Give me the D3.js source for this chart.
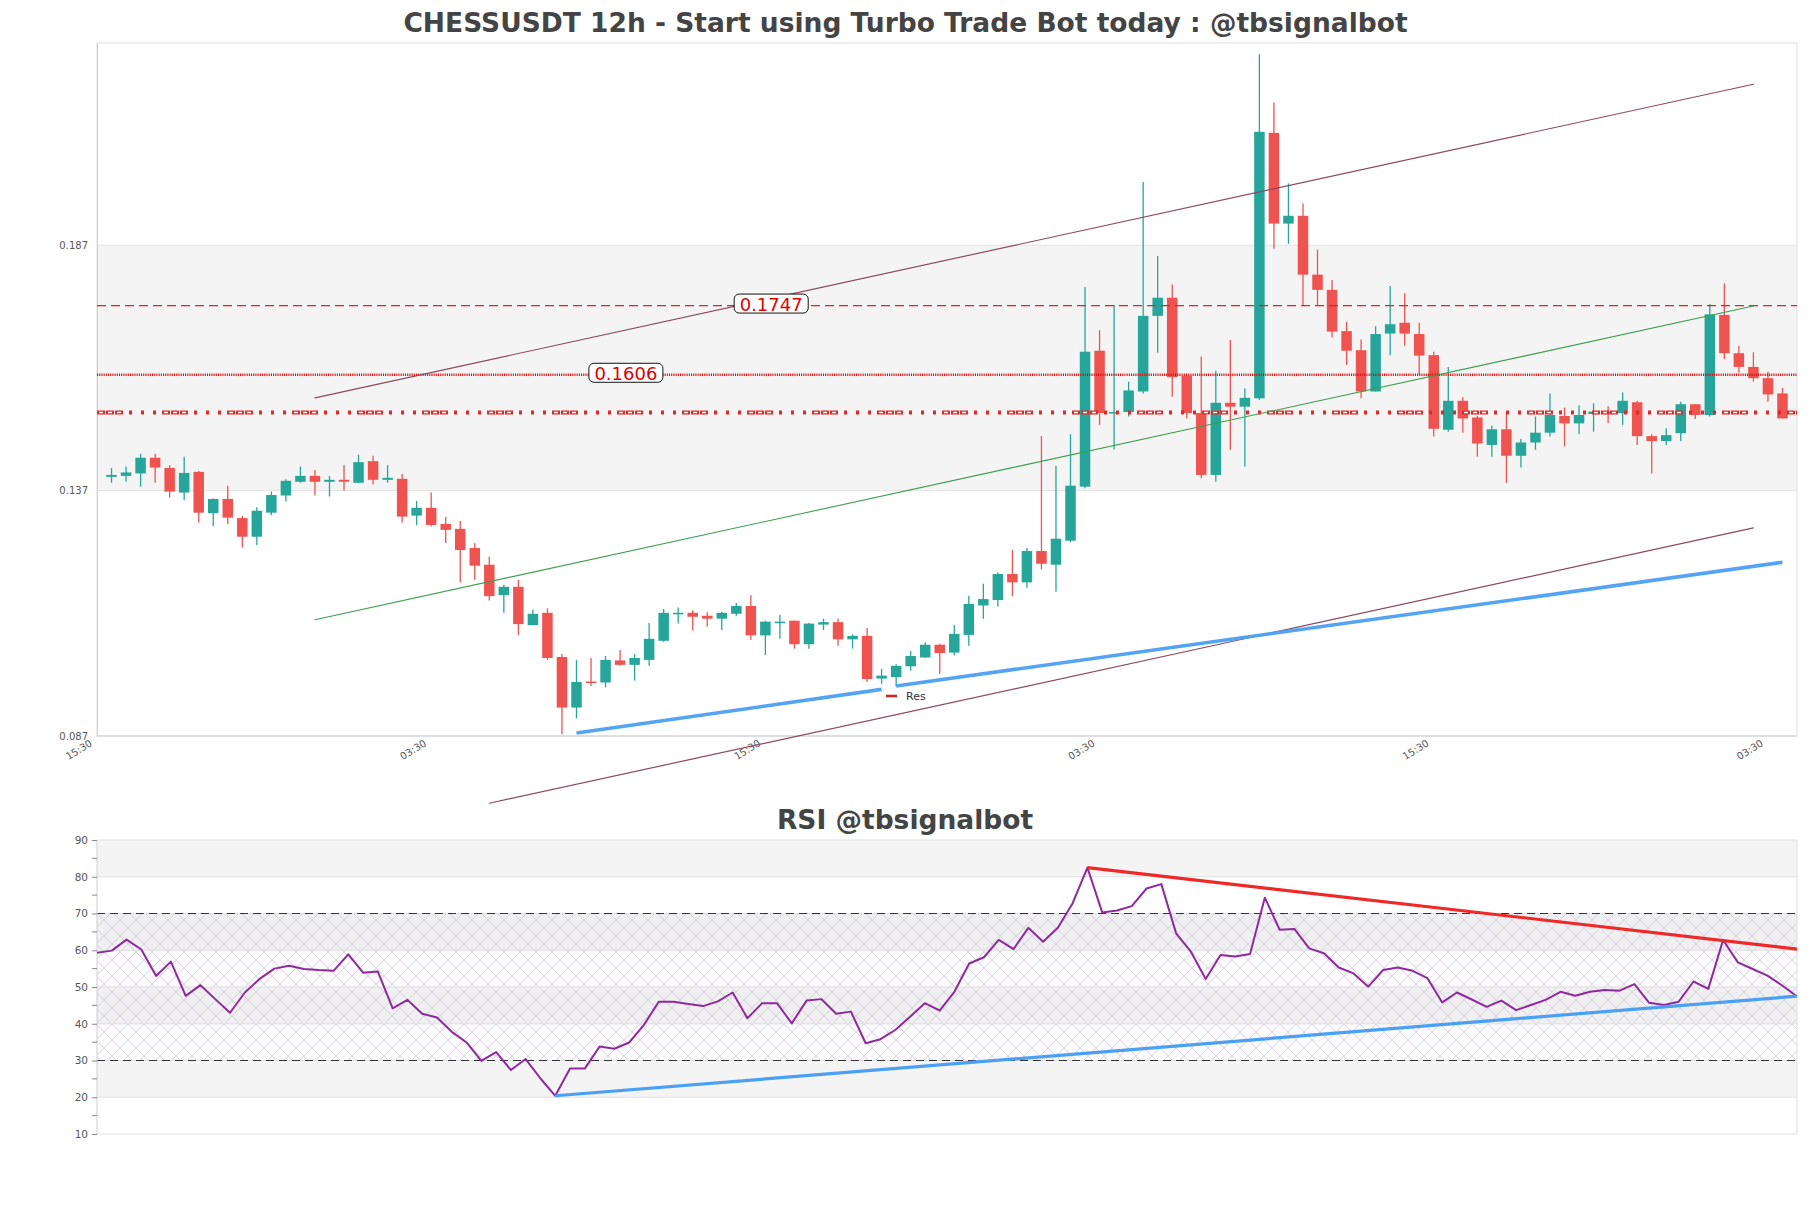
<!DOCTYPE html>
<html><head><meta charset="utf-8">
<script src="https://cdn.jsdelivr.net/npm/d3@7"></script>
<style>
html,body{margin:0;padding:0;background:#fff;}
svg{display:block;font-family:"DejaVu Sans",sans-serif;}
</style></head><body>
<svg id="c" width="1811" height="1208"></svg>
<script>
// ---------------- DATA ----------------
const titleMain = "CHESSUSDT 12h - Start using Turbo Trade Bot today : @tbsignalbot";
const titleRsi = "RSI @tbsignalbot";
const categoryCount = 118;           // category slots on the candle axis
const firstCandleIndex = 1;
const openP  = [0.1398,0.1400,0.1405,0.1437,0.1416,0.1366,0.1408,0.1324,0.1353,0.1314,0.1276,0.1325,0.1360,0.1388,0.1400,0.1388,0.1392,0.1386,0.1430,0.1392,0.1394,0.1319,0.1335,0.1302,0.1292,0.1253,0.1219,0.1157,0.1174,0.1096,0.1121,0.1031,0.0928,0.0981,0.0979,0.1024,0.1015,0.1025,0.1064,0.1118,0.1121,0.1115,0.1109,0.1119,0.1135,0.1075,0.1100,0.1105,0.1057,0.1097,0.1102,0.1067,0.1074,0.0987,0.0990,0.1012,0.1030,0.1056,0.1040,0.1076,0.1136,0.1147,0.1200,0.1183,0.1247,0.1219,0.1268,0.1378,0.1655,0.1527,0.1530,0.1572,0.1726,0.1763,0.1604,0.1528,0.1402,0.1549,0.1541,0.1558,0.2099,0.1914,0.1930,0.1810,0.1779,0.1695,0.1656,0.1572,0.1690,0.1712,0.1689,0.1646,0.1494,0.1553,0.1519,0.1463,0.1495,0.1441,0.1468,0.1488,0.1522,0.1507,0.1526,0.1531,0.1528,0.1550,0.1481,0.1471,0.1487,0.1546,0.1524,0.1728,0.1650,0.1622,0.1599,0.1568];
const highP  = [0.1416,0.1419,0.1445,0.1445,0.1422,0.1439,0.1410,0.1354,0.1380,0.1318,0.1336,0.1368,0.1393,0.1419,0.1412,0.1400,0.1422,0.1443,0.1441,0.1422,0.1404,0.1349,0.1366,0.1316,0.1308,0.1263,0.1235,0.1178,0.1188,0.1128,0.1130,0.1037,0.1025,0.1029,0.1033,0.1045,0.1037,0.1100,0.1129,0.1132,0.1126,0.1122,0.1123,0.1141,0.1157,0.1105,0.1117,0.1105,0.1101,0.1109,0.1109,0.1077,0.1090,0.1007,0.1016,0.1043,0.1061,0.1058,0.1096,0.1156,0.1180,0.1203,0.1249,0.1253,0.1481,0.1420,0.1485,0.1785,0.1697,0.1748,0.1592,0.1999,0.1848,0.1790,0.1604,0.1643,0.1614,0.1677,0.1578,0.2259,0.2161,0.1996,0.1955,0.1861,0.1799,0.1714,0.1678,0.1705,0.1787,0.1772,0.1712,0.1653,0.1622,0.1560,0.1522,0.1502,0.1528,0.1475,0.1521,0.1568,0.1539,0.1544,0.1548,0.1542,0.1570,0.1553,0.1485,0.1497,0.1551,0.1546,0.1750,0.1792,0.1665,0.1652,0.1612,0.1579];
const lowP   = [0.1386,0.1388,0.1378,0.1386,0.1356,0.1351,0.1305,0.1298,0.1302,0.1254,0.1259,0.1320,0.1348,0.1386,0.1360,0.1358,0.1370,0.1385,0.1383,0.1386,0.1305,0.1300,0.1297,0.1263,0.1183,0.1188,0.1146,0.1121,0.1076,0.1096,0.1025,0.0874,0.0906,0.0972,0.0969,0.1013,0.0983,0.1013,0.1062,0.1099,0.1085,0.1093,0.1086,0.1115,0.1066,0.1035,0.1068,0.1048,0.1048,0.1086,0.1054,0.1048,0.0980,0.0976,0.0971,0.1003,0.1029,0.0997,0.1034,0.1054,0.1109,0.1134,0.1155,0.1172,0.1210,0.1164,0.1265,0.1375,0.1504,0.1454,0.1521,0.1568,0.1651,0.1561,0.1517,0.1395,0.1388,0.1453,0.1419,0.1555,0.1863,0.1873,0.1746,0.1748,0.1682,0.1626,0.1558,0.1572,0.1646,0.1665,0.1606,0.1480,0.1490,0.1488,0.1439,0.1439,0.1386,0.1417,0.1453,0.1480,0.1460,0.1485,0.1490,0.1507,0.1504,0.1463,0.1405,0.1463,0.1471,0.1516,0.1521,0.1638,0.1610,0.1592,0.1551,0.1517];
const closeP = [0.1402,0.1407,0.1437,0.1417,0.1368,0.1406,0.1325,0.1353,0.1315,0.1276,0.1329,0.1361,0.1390,0.1400,0.1388,0.1392,0.1388,0.1428,0.1392,0.1396,0.1317,0.1335,0.1300,0.1290,0.1249,0.1217,0.1155,0.1174,0.1098,0.1119,0.1029,0.0928,0.0980,0.0978,0.1025,0.1015,0.1029,0.1068,0.1121,0.1121,0.1113,0.1109,0.1121,0.1135,0.1075,0.1103,0.1103,0.1057,0.1099,0.1102,0.1067,0.1074,0.0986,0.0993,0.1013,0.1033,0.1056,0.1039,0.1078,0.1139,0.1149,0.1200,0.1183,0.1247,0.1221,0.1272,0.1380,0.1653,0.1528,0.1530,0.1574,0.1726,0.1763,0.1601,0.1528,0.1402,0.1549,0.1541,0.1559,0.2101,0.1914,0.1930,0.1810,0.1779,0.1694,0.1655,0.1572,0.1689,0.1709,0.1690,0.1645,0.1496,0.1553,0.1517,0.1466,0.1495,0.1441,0.1468,0.1488,0.1524,0.1507,0.1524,0.1531,0.1526,0.1553,0.1481,0.1471,0.1483,0.1546,0.1524,0.1729,0.1650,0.1622,0.1599,0.1566,0.1517];
const rsiValues = [59.3,59.9,62.9,60.2,53.0,56.9,47.6,50.5,46.7,43.0,
  48.5,52.2,55.0,55.8,54.9,54.6,54.4,58.9,53.9,54.2,
  44.2,46.5,42.7,41.7,37.8,34.9,29.9,32.3,27.4,30.4,
  25.1,20.4,27.8,27.8,33.8,33.2,34.9,39.7,46.0,46.0,
  45.4,44.8,46.1,48.5,41.5,45.6,45.6,40.1,46.3,46.7,
  42.7,43.3,34.7,35.8,38.3,41.9,45.6,43.6,48.7,56.4,
  58.1,62.8,60.3,66.1,62.3,66.1,72.8,82.5,70.3,70.8,
  72.0,76.8,78.0,64.6,59.6,52.2,58.7,58.3,59.0,74.3,
  65.6,65.8,60.5,59.2,55.3,53.7,50.1,54.6,55.3,54.4,
  52.4,45.8,48.5,46.6,44.6,46.3,43.7,45.1,46.5,48.7,
  47.6,48.7,49.2,49.0,50.8,45.7,45.1,46.0,51.5,49.5,
  62.8,56.7,54.9,53.1,50.4,47.4];
const xTickIndex  = [0, 23, 46, 69, 92, 115];
const xTickLabels = ["15:30","03:30","15:30","03:30","15:30","03:30"];
const priceTicks  = [0.087, 0.137, 0.187];
const rsiTicks    = [10,20,30,40,50,60,70,80,90];
const rsiMinorTicks = [15,25,35,45,55,65,75,85];
const levelDashed = 0.1747;
const levelDotted = 0.1606;
const levelRes    = 0.1529;
const upperChannel = [[15,0.1559],[114,0.2198]];
const midChannel   = [[15,0.1107],[114,0.1746]];
const lowerChannel = [[27,0.0733],[114,0.1294]];
const supportA     = [[33,0.0876],[54,0.0965]];
const supportB     = [[55,0.0972],[116,0.1224]];
const rsiResistance = [[67,82.5],[115,60.3]];
const rsiSupport    = [[31,20.4],[115,47.5]];
const legendLabel = "Res";

// ---------------- LAYOUT ----------------
const L = 97, R = 1797;
const mainTop = 43, mainBot = 736;
const rsiTop = 840, rsiBot = 1134;
const svg = d3.select("#c");
const xC = d3.scaleLinear().domain([0, categoryCount-1]).range([L, R]);
const xR = d3.scaleLinear().domain([0, rsiValues.length-1]).range([L, R]);
const yP = d3.scaleLinear().domain([0.087, 0.2282]).range([mainBot, mainTop]);
const yR = d3.scaleLinear().domain([10, 90]).range([rsiBot, rsiTop]);
const GREEN = "#26a69a", RED = "#ef5350";
const FONT = "DejaVu Sans, sans-serif";

// defs
const defs = svg.append("defs");
const pat = defs.append("pattern").attr("id","hatch").attr("patternUnits","userSpaceOnUse")
  .attr("width",16).attr("height",16);
pat.append("path").attr("d","M0,0L16,16M16,0L0,16").attr("stroke","#cdc4d3").attr("stroke-width",0.7).attr("fill","none");
pat.append("circle").attr("cx",8).attr("cy",0).attr("r",0.6).attr("fill","#cdc4d3");

// titles
svg.append("text").attr("x",905.5).attr("y",32).attr("text-anchor","middle")
  .attr("font-size",26.5).attr("font-weight","bold").attr("fill","#444").text(titleMain);
svg.append("text").attr("x",905).attr("y",829).attr("text-anchor","middle")
  .attr("font-size",26.5).attr("font-weight","bold").attr("fill","#444").text(titleRsi);

// ---------- main chart ----------
const gM = svg.append("g");
const pBands = [[priceTicks[0],priceTicks[1],"#ffffff"],[priceTicks[1],priceTicks[2],"#f4f4f4"],[priceTicks[2],yP.domain()[1],"#ffffff"]];
gM.selectAll("rect.band").data(pBands).join("rect").attr("class","band")
  .attr("x",L).attr("width",R-L).attr("y",d=>yP(d[1])).attr("height",d=>yP(d[0])-yP(d[1])).attr("fill",d=>d[2]);
gM.selectAll("line.grid").data(priceTicks.slice(1)).join("line").attr("class","grid")
  .attr("x1",L).attr("x2",R).attr("y1",d=>yP(d)).attr("y2",d=>yP(d)).attr("stroke","#e2e2e2");
gM.append("rect").attr("x",L).attr("y",mainTop).attr("width",R-L).attr("height",mainBot-mainTop)
  .attr("fill","none").attr("stroke","#e0e0e0");

// y axis
const yAxis = d3.axisLeft(yP).tickValues(priceTicks).tickSize(0).tickPadding(9).tickFormat(d3.format(".3f"));
const ya = gM.append("g").attr("transform",`translate(${L},0)`).call(yAxis);
ya.select(".domain").attr("stroke","#cfcfcf");
ya.selectAll("text").attr("font-size",10).attr("fill","#555").attr("font-family",FONT);

// x axis
const xa = gM.append("g").attr("transform",`translate(0,${mainBot})`);
xa.append("line").attr("x1",L).attr("x2",R).attr("stroke","#cfcfcf");
xa.selectAll("text").data(xTickIndex).join("text")
  .attr("transform",(d)=>`translate(${xC(d)-4},${9}) rotate(-32)`)
  .attr("text-anchor","end").attr("font-size",10).attr("fill","#555")
  .text((d,i)=>xTickLabels[i]);

// candles
const candles = openP.map((o,i)=>({i:i+firstCandleIndex,o,h:highP[i],l:lowP[i],c:closeP[i]}));
const bw = 10.5;
const gc = gM.append("g");
gc.selectAll("line.wick").data(candles).join("line").attr("class","wick")
  .attr("x1",d=>xC(d.i)).attr("x2",d=>xC(d.i)).attr("y1",d=>yP(d.h)).attr("y2",d=>yP(d.l))
  .attr("stroke",d=>d.c>=d.o?GREEN:RED).attr("stroke-width",1.3);
gc.selectAll("rect.body").data(candles).join("rect").attr("class","body")
  .attr("x",d=>xC(d.i)-bw/2).attr("width",bw)
  .attr("y",d=>yP(Math.max(d.o,d.c)))
  .attr("height",d=>Math.max(1.5,Math.abs(yP(d.o)-yP(d.c))))
  .attr("fill",d=>d.c>=d.o?GREEN:RED);

// horizontal levels
const hl = gM.append("g");
hl.append("line").attr("x1",L).attr("x2",R).attr("y1",yP(levelDashed)).attr("y2",yP(levelDashed))
  .attr("stroke","#dd2222").attr("stroke-width",1.3).attr("stroke-dasharray","9,5");
hl.append("line").attr("x1",L).attr("x2",R).attr("y1",yP(levelDotted)).attr("y2",yP(levelDotted))
  .attr("stroke","#e01010").attr("stroke-width",2.4).attr("stroke-dasharray","1.1,1.1");
hl.append("line").attr("x1",L).attr("x2",R).attr("y1",yP(levelRes)).attr("y2",yP(levelRes))
  .attr("stroke","#e02828").attr("stroke-width",4).attr("stroke-dasharray","8,1,8,1,8,6,3,9,3,9,3,6");
hl.append("line").attr("x1",L).attr("x2",R).attr("y1",yP(levelRes)).attr("y2",yP(levelRes))
  .attr("stroke","#ffffff").attr("stroke-width",1.4).attr("stroke-dasharray","0,2,4,5,4,5,4,41");

// trend lines
const seg = (g,pts,sx,sy,color,w)=>g.append("line")
  .attr("x1",sx(pts[0][0])).attr("y1",sy(pts[0][1])).attr("x2",sx(pts[1][0])).attr("y2",sy(pts[1][1]))
  .attr("stroke",color).attr("stroke-width",w).attr("stroke-linecap","round");
seg(gM,upperChannel,xC,yP,"#8a4a5e",1.2);
seg(gM,lowerChannel,xC,yP,"#8a4a5e",1.2);
seg(gM,midChannel,xC,yP,"#3d9e4e",1.1);
seg(gM,supportA,xC,yP,"#4aa0f5",3.6).attr("stroke-linecap","butt").attr("opacity",0.95);
seg(gM,supportB,xC,yP,"#4aa0f5",3.6).attr("stroke-linecap","butt").attr("opacity",0.95);

// level labels
const labelAt = {dashed: 46.4, dotted: 36.4};
function levelLabel(v, idx){
  const cx = xC(idx), cy = yP(v) - 2;
  const g = gM.append("g");
  g.append("rect").attr("x",cx-37).attr("y",cy-9.5).attr("width",74).attr("height",19).attr("rx",5)
    .attr("fill","#fff").attr("stroke","#111").attr("stroke-width",1);
  g.append("text").attr("x",cx).attr("y",cy+1).attr("text-anchor","middle").attr("dominant-baseline","central")
    .attr("font-size",18).attr("fill","#e00000").text(v.toFixed(4));
}
levelLabel(levelDashed, labelAt.dashed);
levelLabel(levelDotted, labelAt.dotted);

// legend
const lg = gM.append("g").attr("transform","translate(886,696)");
lg.append("line").attr("x1",0).attr("x2",11).attr("stroke","#c62828").attr("stroke-width",2.6);
lg.append("text").attr("x",20).attr("y",0).attr("dominant-baseline","central").attr("font-size",11).attr("fill","#333").text(legendLabel);

// ---------- RSI chart ----------
const gR = svg.append("g");
const rBands = d3.range(rsiTicks.length-1).map(k=>[rsiTicks[k],rsiTicks[k+1],k%2===1?"#f4f4f4":"#ffffff"]);
gR.selectAll("rect.band").data(rBands).join("rect").attr("class","band")
  .attr("x",L).attr("width",R-L).attr("y",d=>yR(d[1])).attr("height",d=>yR(d[0])-yR(d[1])).attr("fill",d=>d[2]);
gR.append("rect").attr("x",L).attr("width",R-L).attr("y",yR(70)).attr("height",yR(30)-yR(70))
  .attr("fill","rgba(160,120,190,0.04)");
gR.append("rect").attr("x",L).attr("width",R-L).attr("y",yR(70)).attr("height",yR(30)-yR(70))
  .attr("fill","url(#hatch)");
gR.selectAll("line.grid").data(rsiTicks).join("line").attr("class","grid")
  .attr("x1",L).attr("x2",R).attr("y1",d=>yR(d)).attr("y2",d=>yR(d)).attr("stroke","#e0e0e0");
gR.append("line").attr("x1",R).attr("x2",R).attr("y1",rsiTop).attr("y2",rsiBot).attr("stroke","#e0e0e0");
gR.selectAll("line.ob").data([70,30]).join("line").attr("class","ob")
  .attr("x1",L).attr("x2",R).attr("y1",d=>yR(d)).attr("y2",d=>yR(d))
  .attr("stroke","#333").attr("stroke-width",1.2).attr("stroke-dasharray","8,5");

const ryAxis = d3.axisLeft(yR).tickValues(rsiTicks).tickSize(5).tickPadding(4);
const rya = gR.append("g").attr("transform",`translate(${L},0)`).call(ryAxis);
rya.select(".domain").attr("stroke","#cfcfcf").attr("d",`M-0,${rsiTop}V${rsiBot}`);
rya.selectAll(".tick line").attr("stroke","#888");
rya.selectAll("text").attr("font-size",10.5).attr("fill","#555").attr("font-family",FONT);
gR.selectAll("line.minor").data(rsiMinorTicks).join("line").attr("class","minor")
  .attr("x1",L-5).attr("x2",L).attr("y1",d=>yR(d)).attr("y2",d=>yR(d)).attr("stroke","#888");

gR.append("path").datum(rsiValues)
  .attr("d",d3.line().x((d,i)=>xR(i)).y(d=>yR(d)))
  .attr("fill","none").attr("stroke","#8e2a9e").attr("stroke-width",2).attr("stroke-linejoin","round");
seg(gR,rsiResistance,xR,yR,"#f02828",3.2).attr("stroke-linecap","butt");
seg(gR,rsiSupport,xR,yR,"#4aa0f5",3.2).attr("stroke-linecap","butt");
</script>
</body></html>
